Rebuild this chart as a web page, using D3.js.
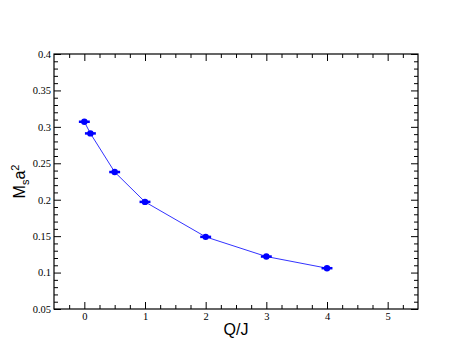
<!DOCTYPE html>
<html>
<head>
<meta charset="utf-8">
<script src="https://cdn.jsdelivr.net/npm/d3@7"></script>
<style>
  body { margin: 0; background: #fff; }
  svg { display: block; }
  .ticklab { font-family: "Liberation Serif", "Times New Roman", serif; font-size: 10.5px; fill: #000; }
</style>
</head>
<body>
<div id="chart"></div>
<script>
// data
var qj = [0, 0.1, 0.5, 1, 2, 3, 4];
var msa2 = [0.307, 0.291, 0.238, 0.197, 0.149, 0.122, 0.106];
var qjErr = [0.09, 0.09, 0.09, 0.09, 0.09, 0.09, 0.09];

var xTicks = [0, 1, 2, 3, 4, 5];
var yTicks = [0.05, 0.1, 0.15, 0.2, 0.25, 0.3, 0.35, 0.4];
var yTickLabels = ["0.05", "0.1", "0.15", "0.2", "0.25", "0.3", "0.35", "0.4"];

var width = 471, height = 364;
var margin = {top: 54, right: 53, bottom: 55, left: 54};
var w = width - margin.left - margin.right,
    h = height - margin.top - margin.bottom;

var svg = d3.select("#chart").append("svg")
    .attr("width", width)
    .attr("height", height);

var g = svg.append("g")
    .attr("transform", "translate(" + margin.left + "," + margin.top + ")");

var x = d3.scaleLinear().domain([-0.5, 5.5]).range([0, w]);
var y = d3.scaleLinear().domain([0.05, 0.4]).range([h, 0]);

var xMinor = d3.range(-0.25, 5.5, 0.25).filter(function(d) { return Math.abs(d - Math.round(d)) > 1e-6; });
var yMinor = d3.range(0.06, 0.4, 0.01).filter(function(d) { return Math.abs(d * 20 - Math.round(d * 20)) > 1e-6; });

// bottom axis: ticks inward
var xAxis = d3.axisBottom(x).tickValues(xTicks).tickSize(-7).tickFormat(d3.format("d"));
var gx = g.append("g").attr("transform", "translate(0," + h + ")").call(xAxis);
gx.attr("font-family", null).attr("font-size", null);
gx.selectAll("text").attr("y", 4).attr("class", "ticklab").attr("fill", null);

var xAxisMinor = d3.axisBottom(x).tickValues(xMinor).tickSize(-4).tickFormat("");
g.append("g").attr("transform", "translate(0," + h + ")").call(xAxisMinor);

// top axis
g.append("g").call(d3.axisTop(x).tickValues(xTicks).tickSize(-7).tickFormat(""));
g.append("g").call(d3.axisTop(x).tickValues(xMinor).tickSize(-4).tickFormat(""));

// left axis
var yAxis = d3.axisLeft(y).tickValues(yTicks).tickSize(-7)
    .tickFormat(function(d, i) { return yTickLabels[i]; });
var gy = g.append("g").call(yAxis);
gy.attr("font-family", null).attr("font-size", null);
gy.selectAll("text").attr("x", -3).attr("class", "ticklab").attr("fill", null);
g.append("g").call(d3.axisLeft(y).tickValues(yMinor).tickSize(-4).tickFormat(""));

// right axis
g.append("g").attr("transform", "translate(" + w + ",0)")
    .call(d3.axisRight(y).tickValues(yTicks).tickSize(-7).tickFormat(""));
g.append("g").attr("transform", "translate(" + w + ",0)")
    .call(d3.axisRight(y).tickValues(yMinor).tickSize(-4).tickFormat(""));

g.selectAll(".domain").remove();
g.selectAll(".tick line").attr("stroke", "#000").attr("stroke-width", 1);

// frame
g.append("rect")
    .attr("width", w).attr("height", h)
    .attr("fill", "none").attr("stroke", "#000").attr("stroke-width", 1.2);

// series
var pts = qj.map(function(d, i) { return {x: d, y: msa2[i], e: qjErr[i]}; });

var line = d3.line()
    .x(function(d) { return x(d.x); })
    .y(function(d) { return y(d.y); });

g.append("path")
    .datum(pts)
    .attr("d", line)
    .attr("fill", "none")
    .attr("stroke", "#3333ff")
    .attr("stroke-width", 1);

g.selectAll(".errbar")
    .data(pts)
    .enter().append("line")
    .attr("class", "errbar")
    .attr("x1", function(d) { return x(d.x - d.e); })
    .attr("x2", function(d) { return x(d.x + d.e); })
    .attr("y1", function(d) { return y(d.y); })
    .attr("y2", function(d) { return y(d.y); })
    .attr("stroke", "#0000ff")
    .attr("stroke-width", 2.5);

g.selectAll(".dot")
    .data(pts)
    .enter().append("circle")
    .attr("class", "dot")
    .attr("cx", function(d) { return x(d.x); })
    .attr("cy", function(d) { return y(d.y); })
    .attr("r", 3.2)
    .attr("fill", "#0000ff");

// axis titles
svg.append("text")
    .attr("x", margin.left + w / 2)
    .attr("y", 335)
    .attr("text-anchor", "middle")
    .attr("font-family", "'Liberation Sans', Arial, sans-serif")
    .attr("font-size", 16)
    .text("Q/J");

var ylab = svg.append("text")
    .attr("transform", "translate(25," + (margin.top + h / 2) + ") rotate(-90)")
    .attr("text-anchor", "middle")
    .attr("font-family", "'Liberation Sans', Arial, sans-serif")
    .attr("font-size", 16);
ylab.append("tspan").text("M");
ylab.append("tspan").attr("font-size", 11).attr("dy", 4).text("s");
ylab.append("tspan").attr("dy", -4).text("a");
ylab.append("tspan").attr("font-size", 11).attr("dy", -6).text("2");
</script>
</body>
</html>
